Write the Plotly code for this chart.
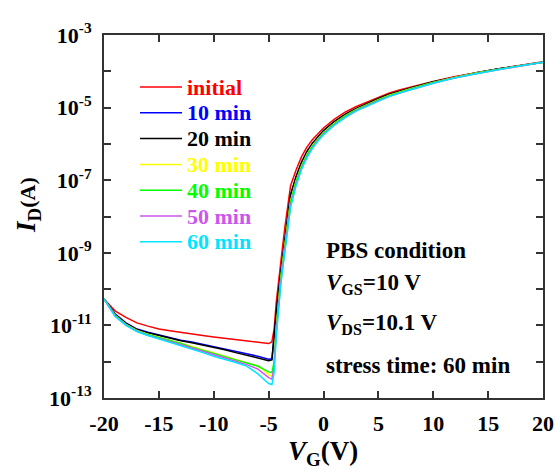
import numpy as np
import plotly.graph_objects as go

# Gate voltage (V)
VG = [-20, -19, -18, -17, -16, -15, -14, -13, -12, -11, -10, -9, -8, -7, -6, -5.5, -5, -4.7,
      -4.5, -4.3, -4.1, -3.9, -3.7, -3.5, -3.2, -3.0,
      -2.5, -2.0, -1.5, -1.0, -0.5, 0,
      1, 2, 3, 4, 5, 6, 7, 8,
      10, 12, 14, 16, 18, 20]

# log10(I_D / A) for each stress time
logI_initial = [-10.27, -10.60, -10.78, -10.93, -11.02, -11.10, -11.15, -11.20, -11.24, -11.28, -11.32, -11.36, -11.40, -11.42, -11.46, -11.48, -11.50, -11.45,
                -11.10, -10.35, -9.75, -9.25, -8.75, -8.25, -7.55, -7.15,
                -6.72, -6.35, -6.08, -5.88, -5.72, -5.56,
                -5.32, -5.12, -4.97, -4.84, -4.71, -4.60, -4.51, -4.43,
                -4.28, -4.14, -4.03, -3.93, -3.83, -3.74]
logI_10 = [-10.27, -10.68, -10.93, -11.10, -11.19, -11.27, -11.35, -11.41, -11.46, -11.52, -11.58, -11.64, -11.72, -11.78, -11.85, -11.90, -11.93, -11.92,
           -11.25, -10.65, -10.10, -9.57, -9.07, -8.58, -7.88, -7.42,
           -6.92, -6.52, -6.22, -5.99, -5.81, -5.64,
           -5.39, -5.19, -5.03, -4.89, -4.76, -4.64, -4.54, -4.46,
           -4.30, -4.16, -4.04, -3.93, -3.84, -3.75]
logI_20 = [-10.27, -10.70, -10.95, -11.12, -11.20, -11.28, -11.36, -11.42, -11.48, -11.54, -11.60, -11.67, -11.75, -11.82, -11.90, -11.94, -11.97, -11.95,
           -11.20, -10.62, -10.08, -9.55, -9.05, -8.55, -7.85, -7.40,
           -6.90, -6.50, -6.20, -5.98, -5.80, -5.63,
           -5.38, -5.18, -5.02, -4.88, -4.75, -4.63, -4.53, -4.45,
           -4.29, -4.15, -4.03, -3.93, -3.84, -3.75]
logI_30 = [-10.27, -10.72, -10.97, -11.14, -11.24, -11.32, -11.41, -11.49, -11.58, -11.67, -11.76, -11.85, -11.94, -12.02, -12.12, -12.22, -12.36, -12.40,
           -12.05, -11.05, -10.30, -9.72, -9.22, -8.72, -8.02, -7.57,
           -7.02, -6.60, -6.28, -6.04, -5.86, -5.69,
           -5.43, -5.22, -5.05, -4.91, -4.78, -4.66, -4.56, -4.47,
           -4.31, -4.16, -4.04, -3.94, -3.84, -3.75]
logI_40 = [-10.27, -10.72, -10.98, -11.15, -11.25, -11.33, -11.42, -11.50, -11.60, -11.68, -11.78, -11.86, -11.95, -12.03, -12.12, -12.20, -12.28, -12.30,
           -12.00, -11.05, -10.32, -9.75, -9.25, -8.75, -8.05, -7.60,
           -7.05, -6.62, -6.30, -6.06, -5.87, -5.70,
           -5.44, -5.23, -5.06, -4.92, -4.79, -4.67, -4.57, -4.48,
           -4.31, -4.17, -4.05, -3.94, -3.84, -3.75]
logI_50 = [-10.27, -10.74, -10.99, -11.16, -11.27, -11.35, -11.44, -11.53, -11.62, -11.72, -11.81, -11.90, -11.99, -12.08, -12.20, -12.32, -12.44, -12.48,
           -12.15, -11.20, -10.42, -9.85, -9.35, -8.85, -8.15, -7.70,
           -7.12, -6.68, -6.35, -6.10, -5.90, -5.73,
           -5.47, -5.26, -5.08, -4.94, -4.81, -4.69, -4.59, -4.50,
           -4.33, -4.18, -4.06, -3.95, -3.85, -3.75]
logI_60 = [-10.27, -10.75, -11.00, -11.17, -11.28, -11.37, -11.46, -11.55, -11.65, -11.75, -11.85, -11.93, -12.02, -12.12, -12.33, -12.47, -12.60, -12.63,
           -12.30, -11.30, -10.50, -9.90, -9.40, -8.90, -8.20, -7.75,
           -7.15, -6.70, -6.37, -6.12, -5.92, -5.75,
           -5.48, -5.27, -5.09, -4.95, -4.81, -4.69, -4.59, -4.50,
           -4.33, -4.18, -4.06, -3.95, -3.85, -3.75]

series_names = ["initial", "10 min", "20 min", "30 min", "40 min", "50 min", "60 min"]
series_logI = [logI_initial, logI_10, logI_20, logI_30, logI_40, logI_50, logI_60]
series_colors = ["#FF0000", "#0000FF", "#000000", "#FFFF00", "#00FF00", "#CC55EE", "#00E5FF"]

y_exponents = [-3, -4, -5, -6, -7, -8, -9, -10, -11, -12, -13]
x_ticks = [-20, -15, -10, -5, 0, 5, 10, 15, 20]

FONT = "Liberation Serif"
W, H = 556, 472
ML, MR, MT, MB = 104, 13, 35, 74
PW, PH = W - ML - MR, H - MT - MB


def px(xp):
    return (xp - ML) / PW


def py(yp):
    return (H - MB - yp) / PH


fig = go.Figure()
for name, logs, col in zip(series_names, series_logI, series_colors):
    fig.add_trace(go.Scatter(
        x=VG, y=np.power(10.0, np.array(logs)), mode="lines",
        line=dict(color=col, width=1.5), name=name, showlegend=False,
    ))

ytickvals = [10.0 ** e for e in y_exponents]
yticktext = [f"10<sup>{e}</sup>" if e % 2 != 0 else "" for e in y_exponents]

axis_common = dict(showline=True, linecolor="#333333", linewidth=2, mirror="ticks",
                   ticks="inside", ticklen=7, tickwidth=1.5, tickcolor="#333333",
                   showgrid=False, zeroline=False, automargin=False,
                   tickfont=dict(family=FONT, size=22, color="black", weight="bold"))

fig.update_xaxes(range=[-20, 20], tickvals=x_ticks,
                 ticktext=[str(t) for t in x_ticks], ticklabelstandoff=5, **axis_common)
fig.update_yaxes(type="log", range=[-13, -3], tickvals=ytickvals, ticktext=yticktext,
                 ticklabelstandoff=6, **axis_common)

ann_font = dict(family=FONT, size=23, color="black", weight="bold")
annotations = [
    dict(text="<i>I</i><sub>D</sub><span style='font-size:22px'>(A)</span>",
         x=px(28), y=py(205), xref="paper", yref="paper",
         xanchor="center", yanchor="middle",
         textangle=-90, showarrow=False, font=dict(family=FONT, size=27, color="black", weight="bold")),
    dict(text="<i>V</i><sub>G</sub>(V)", x=px(323), y=py(453), xref="paper", yref="paper",
         xanchor="center", yanchor="middle",
         showarrow=False, font=dict(family=FONT, size=27, color="black", weight="bold")),
    dict(text="PBS condition", x=px(324), y=py(250), xref="paper", yref="paper",
         xanchor="left", yanchor="middle", showarrow=False, font=ann_font),
    dict(text="<i>V</i><sub>GS</sub>=10 V", x=px(324), y=py(284), xref="paper", yref="paper",
         xanchor="left", yanchor="middle", showarrow=False, font=ann_font),
    dict(text="<i>V</i><sub>DS</sub>=10.1 V", x=px(324), y=py(324), xref="paper", yref="paper",
         xanchor="left", yanchor="middle", showarrow=False, font=ann_font),
    dict(text="stress time: 60 min", x=px(324), y=py(365), xref="paper", yref="paper",
         xanchor="left", yanchor="middle", showarrow=False, font=ann_font),
]

# manual legend (coloured labels)
shapes = []
row0, row_gap = 87, 25.8
for i, (name, col) in enumerate(zip(series_names, series_colors)):
    yrow = row0 + i * row_gap
    shapes.append(dict(type="line", xref="paper", yref="paper",
                       x0=px(140), x1=px(182), y0=py(yrow), y1=py(yrow),
                       line=dict(color=col, width=1.5)))
    annotations.append(dict(text=name, x=px(185), y=py(yrow), xref="paper", yref="paper",
                            xanchor="left", yanchor="middle", showarrow=False,
                            font=dict(family=FONT, size=22, color=col, weight="bold")))

fig.update_layout(
    width=W, height=H,
    margin=dict(l=ML, r=MR, t=MT, b=MB),
    paper_bgcolor="white", plot_bgcolor="white",
    font=dict(family=FONT, size=22, color="black", weight="bold"),
    showlegend=False,
    annotations=annotations,
    shapes=shapes,
)

fig.write_html("out.html")
